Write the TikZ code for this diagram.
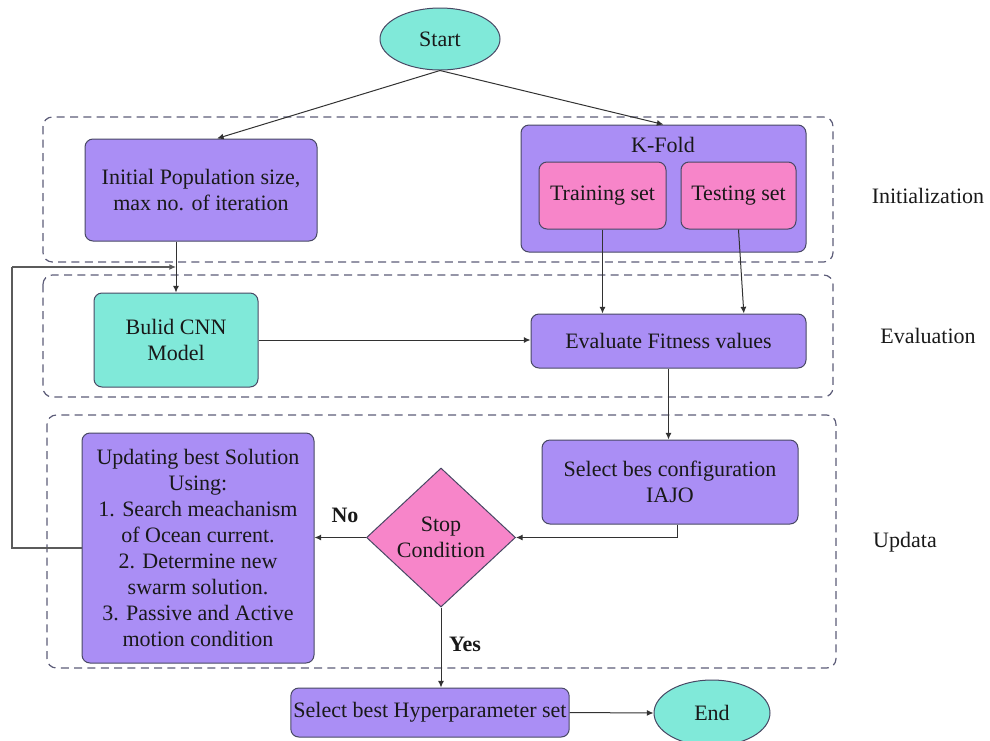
\documentclass[tikz,border=0pt]{standalone}
\usepackage{fontspec}
\setmainfont{Liberation Serif}
\usetikzlibrary{shapes.geometric,arrows.meta}
\definecolor{turq}{RGB}{128,233,217}
\definecolor{purp}{RGB}{170,142,245}
\definecolor{pinkc}{RGB}{247,133,201}
\definecolor{bord}{RGB}{72,72,100}
\definecolor{dashc}{RGB}{92,92,120}
\definecolor{linec}{RGB}{50,50,50}
\tikzset{
  every node/.style={font=\fontsize{16.5pt}{19.5pt}\selectfont, text=black!90},
  boxp/.style={draw=bord, line width=0.75pt, rounded corners=6pt, fill=purp, align=center, inner sep=2pt},
  boxt/.style={draw=bord, line width=0.75pt, rounded corners=6pt, fill=turq, align=center, inner sep=2pt},
  boxk/.style={draw=bord, line width=0.75pt, rounded corners=6pt, fill=pinkc, align=center, inner sep=2pt},
  ovalt/.style={ellipse, draw=bord, line width=0.75pt, fill=turq, inner sep=0pt},
  decide/.style={diamond, draw=bord, line width=0.75pt, fill=pinkc, align=center, inner sep=0pt, aspect=1.07},
  grp/.style={draw=dashc, line width=0.9pt, dash pattern=on 6pt off 4pt, rounded corners=7pt},
  arr/.style={draw=linec, line width=0.75pt, -{Latex[length=5pt,width=4.5pt]}},
  lne/.style={draw=linec!80, line width=0.9pt},
  side/.style={align=center}
}
\begin{document}
\begin{tikzpicture}[x=0.75pt,y=-0.75pt]
\useasboundingbox (0,0) rectangle (990,740);
% group frames
\draw[grp] (43,117) rectangle (833,262);
\draw[grp] (43,275) rectangle (833,397);
\draw[grp] (47,415) rectangle (836,668);
% nodes
\node[ovalt, minimum width=90pt, minimum height=46.5pt] (start) at (440,39) {Start};
\node[boxp, minimum width=174pt, minimum height=76.5pt] (init) at (201,190) {Initial Population size,\\max no. of iteration};
\node[boxp, minimum width=213.75pt, minimum height=95.25pt] (kfold) at (663.5,188.5) {};
\node (kfoldlbl) at (663,145) {K-Fold};
\node[boxk, minimum width=95.25pt, minimum height=50.25pt] (train) at (602.5,195.5) {Training set};
\node[boxk, minimum width=86.25pt, minimum height=50.25pt] (test) at (738.5,195.5) {Testing set};
\node[side] (initlbl) at (928,196) {Initialization};
\node[boxt, minimum width=123pt, minimum height=70.5pt] (cnn) at (176,340) {Bulid CNN\\Model};
\node[boxp, minimum width=206.25pt, minimum height=40.5pt] (eval) at (668.5,341) {Evaluate Fitness values};
\node[side] (evallbl) at (928,336) {Evaluation};
\node[boxp, minimum width=174pt, minimum height=172.5pt] (upd) at (198,548) {Updating best Solution\\Using:\\1. Search meachanism\\of Ocean current.\\2. Determine new\\swarm solution.\\3. Passive and Active\\motion condition};
\node[boxp, minimum width=192pt, minimum height=63pt] (sel) at (670,482) {Select bes configuration\\IAJO};
\node[decide, minimum width=111.75pt, minimum height=104.25pt] (dia) at (441,537.5) {Stop\\Condition};
\node[side] (updlbl) at (905,542) {Updata};
\node[boxp, minimum width=205.5pt, minimum height=36.75pt] (best) at (430,712.5) {Select best Hyperparameter set};
\node[ovalt, minimum width=87pt, minimum height=49.5pt] (end) at (712,713) {End};
\node[font=\fontsize{16.5pt}{19.5pt}\selectfont\bfseries] (nolbl) at (345,515) {No};
\node[font=\fontsize{16.5pt}{19.5pt}\selectfont\bfseries] (yeslbl) at (465,644) {Yes};
\coordinate (fb) at (12,267);
% connectors
\draw[arr] (start.south) -- ([xshift=12pt]init.north);
\draw[arr] (start.south) -- (kfold.north);
\draw[arr] (cnn.north |- init.south) -- (cnn.north);
\draw[lne] (upd.west) -- (upd.west -| fb) -- (fb);
\draw[arr, draw=linec!80, line width=0.9pt] (fb) -- (fb -| cnn.north);
\draw[arr] (cnn.east) -- (cnn.east -| eval.west);
\draw[arr] (train.south) -- (train.south |- eval.north);
\draw[arr] (test.south) -- ([xshift=4pt]test.south |- eval.north);
\draw[arr] (eval.south) -- (eval.south |- sel.north);
\draw[arr] ([xshift=5.25pt]sel.south) |- (dia.east);
\draw[arr] (dia.west) -- (dia.west -| upd.east);
\draw[arr] (dia.south) -- (dia.south |- best.north);
\draw[arr] (best.east) -- (end.west);
\end{tikzpicture}
\end{document}
